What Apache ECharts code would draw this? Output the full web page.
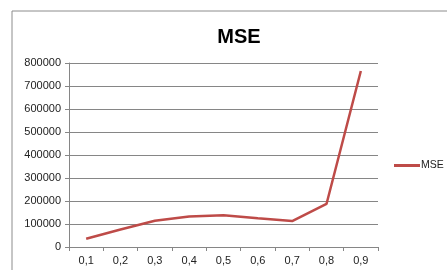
<!DOCTYPE html>
<html>
<head>
<meta charset="utf-8">
<script src="https://cdn.jsdelivr.net/npm/echarts@6/dist/echarts.min.js"></script>
<style>
html,body{margin:0;padding:0;background:#fff;}
#chart{width:447px;height:270px;}
</style>
</head>
<body>
<div id="chart"></div>
<script>
// data
var categories = ['0,1','0,2','0,3','0,4','0,5','0,6','0,7','0,8','0,9'];
var mseValues = [36000, 76000, 114000, 133000, 138000, 125000, 113000, 187000, 765000];
var yTicks = [0, 800000, 100000]; // min, max, interval

var myChart = echarts.init(document.getElementById('chart'));
myChart.setOption({
    animation: false,
    textStyle: { fontFamily: 'Liberation Sans' },
    graphic: [{
        // chart area border
        type: 'rect',
        shape: { x: 12, y: 11, width: 460, height: 280 },
        style: { fill: 'none', stroke: '#8c8c8c', lineWidth: 1 }
    }],
    title: {
        text: 'MSE',
        left: 234,
        top: 22,
        textAlign: 'center',
        textStyle: { fontSize: 20, fontWeight: 'bold', color: '#000', fontFamily: 'Liberation Sans' }
    },
    legend: {
        data: ['MSE'],
        left: 394,
        top: 160,
        padding: 0,
        itemWidth: 26,
        itemHeight: 3,
        itemGap: 2,
        icon: 'rect',
        textStyle: { fontSize: 10.5, color: '#222', padding: [0, 0, 0, -4] }
    },
    grid: { left: 69, right: 69, top: 63, bottom: 23 },
    xAxis: {
        type: 'category',
        data: categories,
        boundaryGap: true,
        axisLine: { lineStyle: { color: '#868686' } },
        axisTick: { show: true, length: 4, lineStyle: { color: '#868686' } },
        axisLabel: { color: '#222', fontSize: 11, margin: 8 },
        splitLine: { show: false }
    },
    yAxis: {
        type: 'value',
        min: yTicks[0],
        max: yTicks[1],
        interval: yTicks[2],
        axisLine: { show: true, lineStyle: { color: '#868686' } },
        axisTick: { show: true, length: 4, lineStyle: { color: '#868686' } },
        axisLabel: { color: '#222', fontSize: 11, margin: 8, formatter: function (v) { return String(v); } },
        splitLine: { lineStyle: { color: '#868686' } }
    },
    series: [{
        name: 'MSE',
        type: 'line',
        data: mseValues,
        symbol: 'none',
        itemStyle: { color: '#BE4B48' },
        lineStyle: { color: '#BE4B48', width: 2.5 }
    }]
});
window.onresize = myChart.resize;
</script>
</body>
</html>
